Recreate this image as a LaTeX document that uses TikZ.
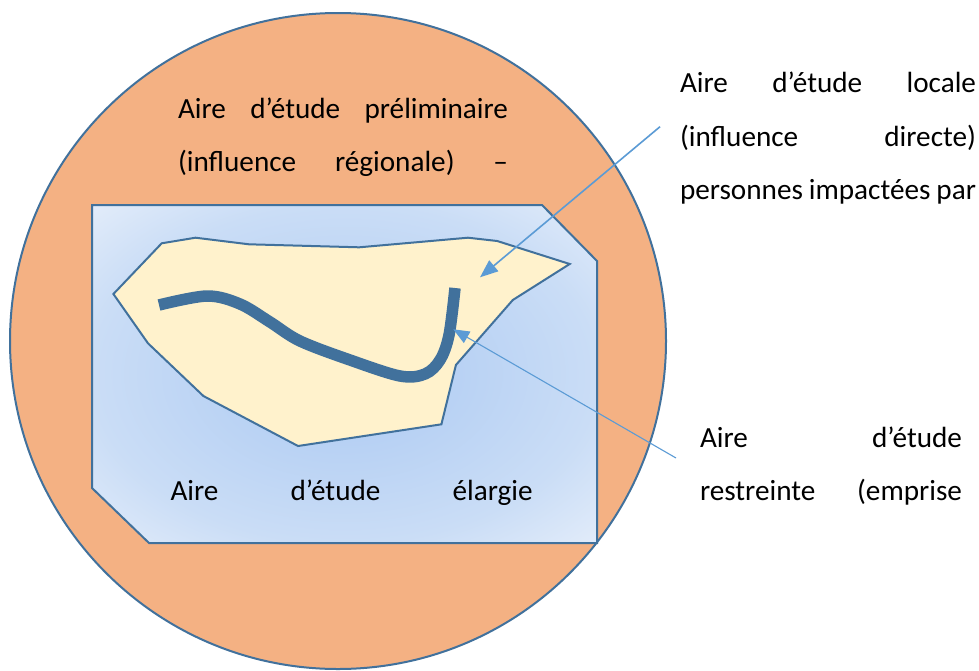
\documentclass[tikz,border=0pt]{standalone}
\usepackage{fontspec}
\setmainfont{Carlito}
\usetikzlibrary{arrows.meta}
\definecolor{orangefill}{HTML}{F4B183}
\definecolor{edgeblue}{HTML}{41719C}
\definecolor{arrowblue}{HTML}{5B9BD5}
\definecolor{areafill}{HTML}{FFF2CC}
\definecolor{shadeinner}{HTML}{ABC9F2}
\definecolor{shademid}{HTML}{CADDF6}
\definecolor{shadeouter}{HTML}{E2ECFA}
\pgfdeclareradialshading{widearea}{\pgfpoint{0bp}{0bp}}{color(0bp)=(shadeinner); color(25bp)=(shademid); color(35.4bp)=(shadeouter); color(50bp)=(shadeouter)}
\begin{document}
\begin{tikzpicture}[x=1pt,y=-1pt,
  lbl/.style={anchor=base west, inner sep=0pt, outer sep=0pt, font=\fontsize{29.2}{34}\selectfont},
  outline/.style={draw=edgeblue, line width=2pt, line join=miter},
  pointer/.style={draw=arrowblue},
  road/.style={draw=edgeblue, line width=11.5pt},
]
\useasboundingbox (0,0) rectangle (979,670);
\fill[white] (0,0) rectangle (979,670);
% preliminary study area (circle)
\path[outline, fill=orangefill] (338,341) circle[radius=328];
% wide study area
\shadedraw[outline, shading=widearea] (92,205) -- (542,205) -- (597,261) -- (597,543) -- (149,543) -- (92,488) -- cycle;
% local study area
\path[outline, fill=areafill] (161.7,243.3) -- (195.5,237.7) -- (249,244.3) -- (359.3,247.3) -- (468,237.7) -- (497.2,241) -- (569.7,264) -- (512.8,300) -- (455.9,365) -- (441.4,424.3) -- (298,446) -- (203.4,396) -- (148,343.3) -- (113.4,294) -- cycle;
% project footprint (road)
\draw[road] plot[smooth, tension=0.55] coordinates {(159,305) (207,296) (240,304) (270,322) (300,341) (350,360) (400,376) (425,374) (440,360) (449,335) (455,288)};
% labels
\node[lbl] (pre1) at (178,118) {\makebox[330pt][s]{Aire d’étude préliminaire}};
\node[lbl] (pre2) at (178,171) {\makebox[330pt][s]{(influence régionale) –}};
\node[lbl] (loc1) at (680,92.5) {\makebox[296pt][s]{Aire d’étude locale}};
\node[lbl] (loc2) at (680,146.5) {\makebox[296pt][s]{(influence directe)}};
\node[lbl] (loc3) at (680,199.5) {\makebox[296pt][s]{personnes impactées par}};
\node[lbl] (res1) at (700,447) {\makebox[262pt][s]{Aire d’étude}};
\node[lbl] (res2) at (700,500.5) {\makebox[262pt][s]{restreinte (emprise}};
\node[lbl] (ela) at (170.5,500) {\makebox[362pt][s]{Aire d’étude élargie}};
% pointers
\coordinate (locsrc) at (660,126.7);
\coordinate (loctip) at (480,277.3);
\coordinate (ressrc) at (676,458);
\coordinate (restip) at (453.3,329.3);
\draw[pointer, line width=1.6pt, -{Triangle[length=18pt,width=14pt]}] (locsrc) -- (loctip);
\draw[pointer, line width=1.1pt, -{Triangle[length=16pt,width=13pt]}] (ressrc) -- (restip);
\end{tikzpicture}
\end{document}
